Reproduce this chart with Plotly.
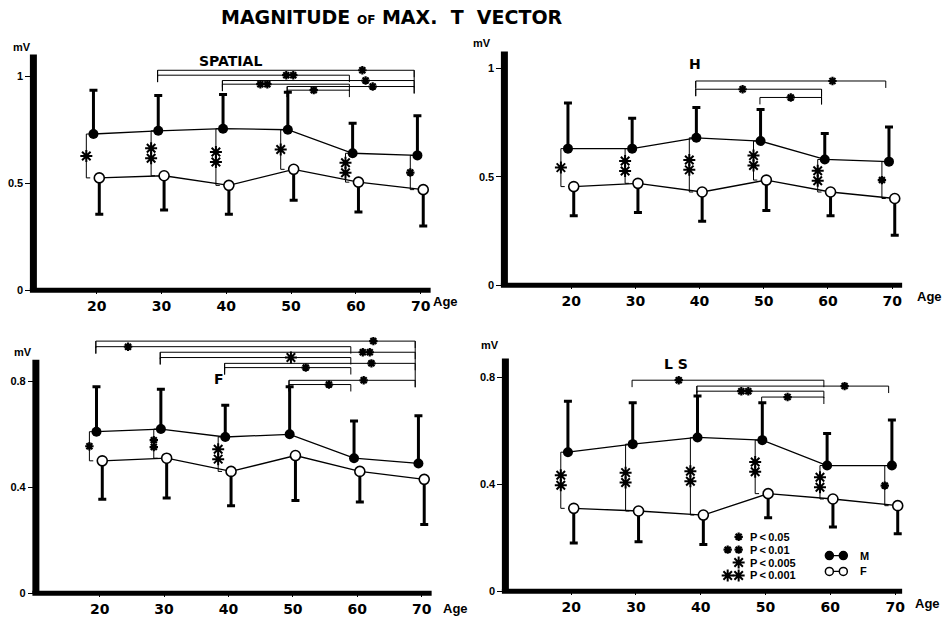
import plotly.graph_objects as go

AGES = [20, 30, 40, 50, 60, 70]

# Mean magnitude of the max. T vector (mV) and its SD, men (M) and women (F)
spatial_m = [0.73, 0.745, 0.755, 0.75, 0.64, 0.63]
spatial_m_sd = [0.205, 0.165, 0.16, 0.175, 0.14, 0.185]
spatial_f = [0.525, 0.535, 0.49, 0.565, 0.505, 0.47]
spatial_f_sd = [0.17, 0.16, 0.135, 0.145, 0.14, 0.17]

h_m = [0.63, 0.63, 0.68, 0.665, 0.58, 0.57]
h_m_sd = [0.21, 0.14, 0.14, 0.145, 0.12, 0.16]
h_f = [0.455, 0.47, 0.43, 0.485, 0.43, 0.40]
h_f_sd = [0.135, 0.135, 0.135, 0.14, 0.11, 0.17]

f_m = [0.61, 0.62, 0.59, 0.60, 0.51, 0.49]
f_m_sd = [0.17, 0.15, 0.12, 0.18, 0.14, 0.18]
f_f = [0.50, 0.51, 0.46, 0.52, 0.46, 0.43]
f_f_sd = [0.145, 0.15, 0.13, 0.17, 0.115, 0.17]

ls_m = [0.52, 0.55, 0.575, 0.565, 0.47, 0.47]
ls_m_sd = [0.19, 0.155, 0.155, 0.14, 0.12, 0.17]
ls_f = [0.31, 0.30, 0.285, 0.365, 0.345, 0.32]
ls_f_sd = [0.13, 0.115, 0.11, 0.09, 0.105, 0.105]

# Significance codes: s = P<0.05, ss = P<0.01, b = P<0.005, bb = P<0.001
# M vs F at each age
spatial_sex_sig = ["b", "bb", "bb", "b", "bb", "s"]
h_sex_sig = ["b", "bb", "bb", "bb", "bb", "s"]
f_sex_sig = ["s", "ss", "bb", None, None, None]
ls_sex_sig = ["bb", "bb", "bb", "bb", "bb", "s"]

# Between age groups (males): (from age, to age, code)
spatial_age_sig = [(30, 70, "s"), (30, 60, "ss"), (40, 70, "s"), (40, 60, "ss"), (50, 70, "s"), (50, 60, "s")]
h_age_sig = [(40, 70, "s"), (40, 60, "s"), (50, 60, "s")]
f_age_sig = [(20, 70, "s"), (20, 60, "s"), (30, 70, "ss"), (30, 60, "b"),
             (40, 70, "s"), (40, 60, "s"), (50, 70, "s"), (50, 60, "s")]
ls_age_sig = [(30, 60, "s"), (40, 70, "s"), (40, 60, "ss"), (50, 60, "s")]

LEGEND_CODES = ["s", "ss", "b", "bb"]
LEGEND_TEXT = ["P\u2009<\u20090.05", "P\u2009<\u20090.01", "P\u2009<\u20090.005", "P\u2009<\u20090.001"]

# bracket heights (mV) and where the asterisk sits (age units)
spatial_lev = [1.028, 1.005, 0.98, 0.963, 0.952, 0.935]
spatial_sx = [61, 49.8, 61.5, 45.8, 62.6, 53.5]
h_lev = [0.942, 0.904, 0.866]
h_sx = [60.7, 46.7, 54.2]
f_lev = [0.952, 0.931, 0.91, 0.89, 0.868, 0.852, 0.804, 0.788]
f_sx = [62.5, 24.4, 61.4, 49.7, 62.2, 52.0, 61.0, 55.6]
ls_lev = [0.789, 0.767, 0.748, 0.726]
ls_sx = [36.6, 62.2, 46.8, 53.4]

W, H = 948, 625
FONT = "Liberation Sans"
WIDE = "DejaVu Sans"
M_OFF, F_OFF = -0.5, 0.4

panels = [
    dict(title="SPATIAL", m=spatial_m, msd=spatial_m_sd, f=spatial_f, fsd=spatial_f_sd,
         sex=spatial_sex_sig, cmp=spatial_age_sig, lev=spatial_lev, sx=spatial_sx,
         box=(33.5, 50, 432, 293), xr=(10.23, 71.54), ytop=1.125, axtop=1.102,
         yt=[0, 0.5, 1], ytl=["0", "0.5", "1"],
         title_px=(231, 62), mv_px=(22, 47), age_px=(447, 304)),
    dict(title="H", m=h_m, msd=h_m_sd, f=h_f, fsd=h_f_sd,
         sex=h_sex_sig, cmp=h_age_sig, lev=h_lev, sx=h_sx,
         box=(506, 45, 905, 288), xr=(9.60, 71.55), ytop=1.110, axtop=1.078,
         yt=[0, 0.5, 1], ytl=["0", "0.5", "1"],
         title_px=(697, 65), mv_px=(484, 43), age_px=(932, 299)),
    dict(title="F", m=f_m, msd=f_m_sd, f=f_f, fsd=f_f_sd,
         sex=f_sex_sig, cmp=f_age_sig, lev=f_lev, sx=f_sx,
         box=(36, 338, 433, 599), xr=(10.09, 71.55), ytop=0.976, axtop=0.882,
         yt=[0, 0.4, 0.8], ytl=["0", "0.4", "0.8"],
         title_px=(220, 383), mv_px=(23, 355), age_px=(457, 614)),
    dict(title="L S", m=ls_m, msd=ls_m_sd, f=ls_f, fsd=ls_f_sd,
         sex=ls_sex_sig, cmp=ls_age_sig, lev=ls_lev, sx=ls_sx,
         box=(507, 355, 905, 597), xr=(9.85, 71.08), ytop=0.896, axtop=0.870,
         yt=[0, 0.4, 0.8], ytl=["0", "0.4", "0.8"],
         title_px=(678, 368), mv_px=(492, 348), age_px=(930, 609)),
]


def px_per_year(p):
    left, _, right, _ = p["box"]
    return (right - left) / (p["xr"][1] - p["xr"][0])


def px_per_mv(p):
    _, top, _, bottom = p["box"]
    return (bottom - top) / p["ytop"]


def to_data(p, px, py):
    left, _, _, bottom = p["box"]
    return p["xr"][0] + (px - left) / px_per_year(p), (bottom - py) / px_per_mv(p)


def paper(px, py):
    return px / W, 1 - py / H


def star_points(p, code, x, y, horizontal, gap_px=None):
    """Return (is_big, [(x, y), ...]) for a significance code."""
    big = code.startswith("b")
    if gap_px is None:
        gap_px = 10 if big else 7
    offs = [0.0] if len(code) == 1 else [-0.5, 0.5]
    pts = []
    for o in offs:
        if horizontal:
            pts.append((x + o * gap_px / px_per_year(p), y))
        else:
            pts.append((x, y + o * gap_px / px_per_mv(p)))
    return big, pts


fig = go.Figure()
shapes, annotations = [], []
axes = {}
bold = dict(color="black", weight="bold")

for i, p in enumerate(panels, start=1):
    sfx = "" if i == 1 else str(i)
    xa, ya = "x" + sfx, "y" + sfx
    left, top, right, bottom = p["box"]

    axes["xaxis" + sfx] = dict(
        domain=[left / W, right / W], range=list(p["xr"]), anchor=ya,
        tickmode="array", tickvals=AGES, ticktext=[str(a) for a in AGES],
        ticks="outside", ticklen=3, tickwidth=1, tickcolor="black",
        showgrid=False, zeroline=False, showline=False,
        tickfont=dict(size=14, family=WIDE, **bold), fixedrange=True)
    axes["yaxis" + sfx] = dict(
        domain=[1 - bottom / H, 1 - top / H], range=[0, p["ytop"]], anchor=xa,
        tickmode="array", tickvals=p["yt"], ticktext=p["ytl"],
        ticks="outside", ticklen=7, tickwidth=1, tickcolor="black",
        showgrid=False, zeroline=False, showline=False,
        tickfont=dict(size=11, family=FONT, **bold), fixedrange=True)

    # thick axis lines
    x0p, _ = paper(left, 0)
    x1p, _ = paper(right, 0)
    _, ybp = paper(0, bottom)
    shapes.append(dict(type="line", xref="paper", yref="paper",
                       x0=x0p - 3.5 / W, x1=x1p, y0=ybp, y1=ybp,
                       line=dict(color="black", width=5)))
    shapes.append(dict(type="line", xref="paper", yref=ya,
                       x0=x0p, x1=x0p, y0=0, y1=p["axtop"],
                       line=dict(color="black", width=7)))

    # brackets
    bx, by = [], []
    small, big = [], []
    drop = 7 / px_per_mv(p)
    segs = []
    for (a, b, code), lev, sx in zip(p["cmp"], p["lev"], p["sx"]):
        x0, x1 = a - 0.6, b - 1.0
        segs.append((x0, x1, lev))
        bx += [x0, x0, x1, x1, None]
        by += [lev - drop, lev, lev, lev - drop, None]
        isbig, pts = star_points(p, code, sx, lev, True)
        (big if isbig else small).extend(pts)
    # join bracket ends that share an age when nothing crosses between them
    for end_idx in (0, 1):
        groups = {}
        for s in segs:
            groups.setdefault(s[end_idx], []).append(s)
        for xv, grp in groups.items():
            if len(grp) < 2:
                continue
            hi = max(g[2] for g in grp)
            lo = min(g[2] for g in grp)
            crossing = any(s not in grp and s[0] < xv < s[1] and lo < s[2] < hi for s in segs)
            if not crossing:
                bx += [xv, xv, None]
                by += [hi, lo - drop, None]

    # M vs F brackets
    for a, mv, fv, code in zip(AGES, p["m"], p["f"], p["sex"]):
        if code is None:
            continue
        xb = a - 1.6
        bx += [xb + 0.6, xb, xb, xb + 0.6, None]
        by += [mv, mv, fv, fv, None]
        isbig, pts = star_points(p, code, xb, (mv + fv) / 2, False)
        (big if isbig else small).extend(pts)

    fig.add_trace(go.Scatter(x=bx, y=by, xaxis=xa, yaxis=ya, mode="lines",
                             line=dict(color="black", width=1), hoverinfo="skip"))

    fig.add_trace(go.Scatter(
        x=[a + M_OFF for a in AGES], y=p["m"], xaxis=xa, yaxis=ya, mode="lines+markers",
        line=dict(color="black", width=1.3),
        marker=dict(size=10, color="black"),
        error_y=dict(type="data", symmetric=False, array=p["msd"], arrayminus=[0] * len(AGES),
                     color="black", thickness=3, width=4),
        cliponaxis=False, name="M"))
    fig.add_trace(go.Scatter(
        x=[a + F_OFF for a in AGES], y=p["f"], xaxis=xa, yaxis=ya, mode="lines+markers",
        line=dict(color="black", width=1.3),
        marker=dict(size=10, color="white", line=dict(color="black", width=1.6)),
        error_y=dict(type="data", symmetric=False, array=[0] * len(AGES), arrayminus=p["fsd"],
                     color="black", thickness=3, width=4),
        cliponaxis=False, name="F"))

    # significance legend inside the last panel
    if i == len(panels):
        rows_py = [542, 555, 568, 581]
        for code, txt, py in zip(LEGEND_CODES, LEGEND_TEXT, rows_py):
            gap = 11 if len(code) == 2 else 0
            cx, cy = to_data(p, 741 - gap / 2, py)
            isbig, pts = star_points(p, code, cx, cy, True, gap_px=gap if gap else None)
            (big if isbig else small).extend(pts)
            ax_, ay_ = paper(750, py)
            annotations.append(dict(xref="paper", yref="paper", x=ax_, y=ay_, text=txt,
                                    showarrow=False, xanchor="left", yanchor="middle",
                                    font=dict(size=11, family=FONT, **bold)))
        for label, py, fill in (("M", 561, "black"), ("F", 577, "white")):
            (lx0, ly), (lx1, _) = to_data(p, 832, py), to_data(p, 846, py)
            fig.add_trace(go.Scatter(
                x=[lx0, lx1], y=[ly, ly], xaxis=xa, yaxis=ya, mode="lines+markers",
                line=dict(color="black", width=1.3),
                marker=dict(size=8, color=fill, line=dict(color="black", width=1.5)),
                cliponaxis=False, hoverinfo="skip"))
            ax_, ay_ = paper(861, py)
            annotations.append(dict(xref="paper", yref="paper", x=ax_, y=ay_, text=label,
                                    showarrow=False, xanchor="left", yanchor="middle",
                                    font=dict(size=11, family=FONT, **bold)))

    for pts, size, lw in ((small, 7, 2.2), (big, 10, 2.0)):
        if pts:
            fig.add_trace(go.Scatter(
                x=[q[0] for q in pts], y=[q[1] for q in pts], xaxis=xa, yaxis=ya,
                mode="markers", cliponaxis=False, hoverinfo="skip",
                marker=dict(symbol="asterisk-open", size=size, color="black",
                            line=dict(color="black", width=lw))))

    # panel labels
    tx, ty = paper(*p["title_px"])
    annotations.append(dict(xref="paper", yref="paper", x=tx, y=ty, text=p["title"],
                            showarrow=False, xanchor="center", yanchor="middle",
                            font=dict(size=14, family=WIDE, **bold)))
    mx, my = paper(*p["mv_px"])
    annotations.append(dict(xref="paper", yref="paper", x=mx, y=my, text="mV",
                            showarrow=False, xanchor="center", yanchor="middle",
                            font=dict(size=11, family=FONT, **bold)))
    gx, gy = paper(*p["age_px"])
    annotations.append(dict(xref="paper", yref="paper", x=gx, y=gy, text="Age",
                            showarrow=False, xanchor="center", yanchor="middle",
                            font=dict(size=13, family=FONT, **bold)))

tx, ty = paper(393, 17)
annotations.append(dict(
    xref="paper", yref="paper", x=tx, y=ty, showarrow=False, xanchor="center", yanchor="middle",
    text="MAGNITUDE <span style='font-size:12px'>OF</span> MAX.\u00a0\u00a0T\u00a0\u00a0VECTOR",
    font=dict(size=19, family=WIDE, **bold)))

fig.update_layout(
    width=W, height=H, margin=dict(l=0, r=0, t=0, b=0),
    paper_bgcolor="white", plot_bgcolor="white", showlegend=False,
    shapes=shapes, annotations=annotations, **axes)

fig.write_html("out.html")
